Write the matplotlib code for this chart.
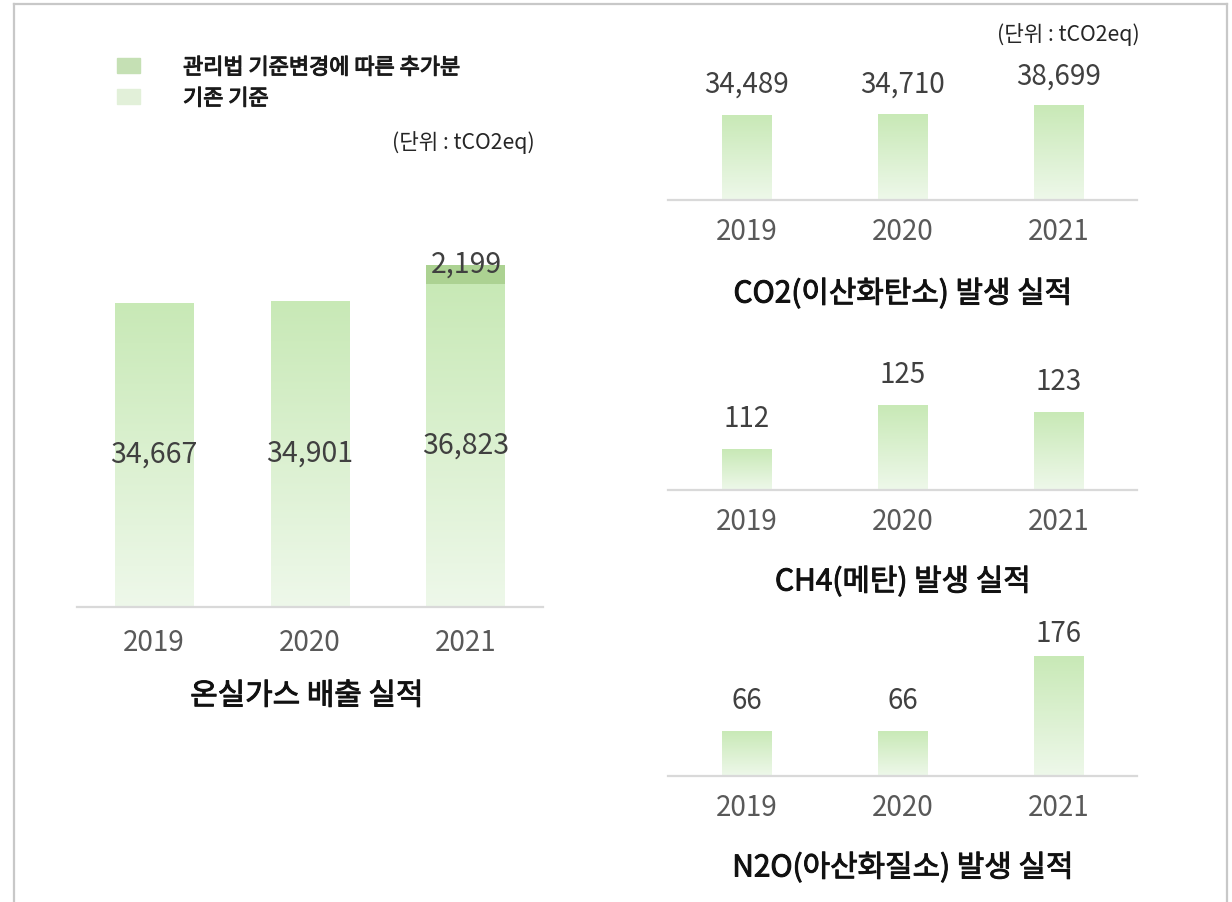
import numpy as np
import matplotlib
matplotlib.use("Agg")
import matplotlib.pyplot as plt
import matplotlib.patheffects as pe
from matplotlib.colors import LinearSegmentedColormap
from matplotlib.patches import Rectangle
from matplotlib.lines import Line2D
from matplotlib.transforms import blended_transform_factory

plt.rcParams["font.family"] = ["Noto Sans CJK KR", "DejaVu Sans"]

years = ["2019", "2020", "2021"]
ghg_base = [34667, 34901, 36823]
ghg_added = [0, 0, 2199]
co2 = [34489, 34710, 38699]
ch4 = [112, 125, 123]
n2o = [66, 66, 176]

legend_labels = ["관리법 기준변경에 따른 추가분", "기존 기준"]
unit_text = "(단위 : tCO2eq)"
titles = ["온실가스 배출 실적", "CO2(이산화탄소) 발생 실적",
          "CH4(메탄) 발생 실적", "N2O(아산화질소) 발생 실적"]

W, H = 1232, 902
LABEL_COLOR = "#404040"
TICK_COLOR = "#595959"
TITLE_COLOR = "#111111"
AXIS_COLOR = "#d9d9d9"
ADDED_COLOR = "#acd292"

grad_cmap = LinearSegmentedColormap.from_list("bar_grad", ["#eef8ea", "#c8e9b6"])
gradient = np.linspace(0, 1, 256).reshape(-1, 1)


def rect(left, top, right, bottom):
    return [left / W, 1 - bottom / H, (right - left) / W, (bottom - top) / H]


def medium(color, width=0.7):
    # regular weight with a thin outline, close to a medium face
    return [pe.withStroke(linewidth=width, foreground=color)]


def gradient_bars(ax, values, width, bottom=0):
    bars = ax.bar(range(len(values)), np.array(values) - bottom, width, bottom=bottom,
                  color="none", edgecolor="none")
    for patch in bars:
        x0, y0 = patch.get_x(), patch.get_y()
        im = ax.imshow(gradient, cmap=grad_cmap, origin="lower", aspect="auto",
                       extent=[x0, x0 + patch.get_width(), y0, y0 + patch.get_height()],
                       interpolation="bilinear", zorder=1)
        im.set_clip_path(patch)
    return bars


def style_axis(ax, xlim, ylim, tick_pad):
    ax.set_xlim(*xlim)
    ax.set_ylim(*ylim)
    for side in ["top", "left", "right"]:
        ax.spines[side].set_visible(False)
    ax.spines["bottom"].set_color(AXIS_COLOR)
    ax.spines["bottom"].set_linewidth(1.6)
    ax.set_yticks([])
    ax.set_xticks(range(len(years)), years)
    ax.tick_params(axis="x", length=0, pad=tick_pad, labelsize=20, labelcolor=TICK_COLOR)
    ax.patch.set_alpha(0)


def small_chart(fig, box, values, ylim):
    ax = fig.add_axes(rect(*box))
    gradient_bars(ax, values, 0.32, bottom=ylim[0])
    style_axis(ax, (-0.506, 2.5), ylim, 12.5)
    height_px = box[3] - box[1]
    trans = blended_transform_factory(ax.transData, ax.transAxes)
    for i, v in enumerate(values):
        frac = (v - ylim[0]) / (ylim[1] - ylim[0])
        y = min(frac + 30 / height_px, 1.0)
        ax.text(i, y, f"{v:,}", transform=trans, ha="center", va="center",
                fontsize=20, color=LABEL_COLOR)
    return ax


fig = plt.figure(figsize=(W / 100, H / 100), dpi=100)

# left: total emissions, stacked
ax = fig.add_axes(rect(77, 200, 543, 607))
gradient_bars(ax, ghg_base, 0.506)
ax.bar(range(3), ghg_added, 0.506, bottom=ghg_base, color=ADDED_COLOR, zorder=2)
style_axis(ax, (-0.494, 2.494), (0, 46400), 15)
for i, (b, a) in enumerate(zip(ghg_base, ghg_added)):
    ax.text(i, b / 2, f"{b:,}", ha="center", va="center", fontsize=20.5,
            color=LABEL_COLOR, zorder=3)
    if a:
        ax.text(i, b + a, f"{a:,}", ha="center", va="center", fontsize=20.5,
                color=LABEL_COLOR, zorder=3)

small_chart(fig, (668, 77, 1137, 200), co2, (0, 49900))
small_chart(fig, (668, 360, 1137, 490), ch4, (100, 138.4))
small_chart(fig, (668, 634, 1137, 776), n2o, (0, 208))

# titles
for text, (x, y) in zip(titles, [(307, 696), (903, 294), (903, 582), (903, 868)]):
    fig.text(x / W, 1 - y / H, text, ha="center", va="center", fontsize=21.5,
             color=TITLE_COLOR, path_effects=medium(TITLE_COLOR))

# legend
for label, color, y in zip(legend_labels, ["#c5e0b4", "#e2f0d9"], [65, 96]):
    fig.patches.append(Rectangle((117 / W, 1 - (y + 7.5) / H), 23 / W, 15 / H,
                                 transform=fig.transFigure, color=color))
    fig.text(183 / W, 1 - (y + 3) / H, label, ha="left", va="center", fontsize=15.8,
             color="#1a1a1a", path_effects=medium("#1a1a1a", 0.8))

fig.text(535 / W, 1 - 143 / H, unit_text, ha="right", va="center", fontsize=15.3, color="#262626")
fig.text(1140 / W, 1 - 35 / H, unit_text, ha="right", va="center", fontsize=15.3, color="#262626")

# frame around the panel
frame = dict(color="#c8c8c8", linewidth=1.6, transform=fig.transFigure)
fig.lines.append(Line2D([14 / W, 14 / W], [0, 1 - 4 / H], **frame))
fig.lines.append(Line2D([14 / W, 1227 / W], [1 - 4 / H, 1 - 4 / H], **frame))
fig.lines.append(Line2D([1227 / W, 1227 / W], [0, 1 - 4 / H], **frame))

fig.savefig("out.png", dpi=100, facecolor="white")
